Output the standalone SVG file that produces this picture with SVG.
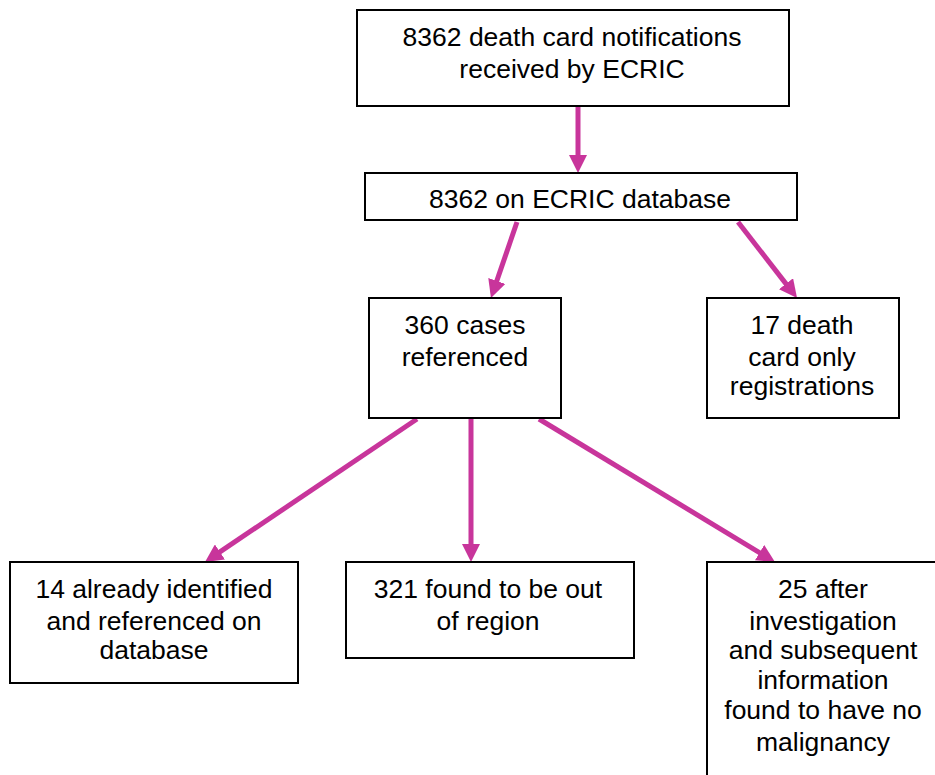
<svg xmlns="http://www.w3.org/2000/svg" width="935" height="775" viewBox="0 0 935 775">
<style>
.box{fill:#fff;stroke:#000;stroke-width:2}
.t{font-family:"Liberation Sans",Arial,sans-serif;font-size:26.5px;fill:#000;text-anchor:middle}
.c{stroke:#c8359b;stroke-width:5;fill:none;marker-end:url(#ah)}
</style>
<defs>
<marker id="ah" markerUnits="userSpaceOnUse" markerWidth="18" markerHeight="18" refX="8" refY="9" orient="auto">
<path d="M0,0 L18,9 L0,18 z" fill="#c8359b"/>
</marker>
</defs>
<rect width="935" height="775" fill="#fff"/>
<g id="connectors">
<line class="c" x1="578" y1="106" x2="578" y2="163"/>
<line class="c" x1="517" y1="222" x2="494.2" y2="288.5"/>
<line class="c" x1="738" y1="222" x2="790.9" y2="290.1"/>
<line class="c" x1="417" y1="419" x2="213.3" y2="556.4"/>
<line class="c" x1="471" y1="419" x2="471" y2="552"/>
<line class="c" x1="539" y1="419" x2="766.4" y2="556.8"/>
</g>
<g id="n1"><rect class="box" x="357" y="10" width="432" height="96"/>
<text class="t" x="572" y="46">8362 death card notifications</text>
<text class="t" x="572" y="78">received by ECRIC</text></g>
<g id="n2"><rect class="box" x="365" y="173" width="432" height="47"/>
<text class="t" x="580" y="208">8362 on ECRIC database</text></g>
<g id="n3"><rect class="box" x="369" y="298" width="192" height="120"/>
<text class="t" x="465" y="334">360 cases</text>
<text class="t" x="465" y="366">referenced</text></g>
<g id="n4"><rect class="box" x="707" y="298" width="192" height="120"/>
<text class="t" x="802" y="334">17 death</text>
<text class="t" x="802" y="366">card only</text>
<text class="t" x="802" y="395">registrations</text></g>
<g id="n5"><rect class="box" x="10" y="562" width="288" height="121"/>
<text class="t" x="154" y="598">14 already identified</text>
<text class="t" x="154" y="630">and referenced on</text>
<text class="t" x="154" y="659">database</text></g>
<g id="n6"><rect class="box" x="346" y="562" width="288" height="96"/>
<text class="t" x="488" y="598">321 found to be out</text>
<text class="t" x="488" y="630">of region</text></g>
<g id="n7"><rect class="box" x="707" y="562" width="240" height="230"/>
<text class="t" x="823" y="598">25 after</text>
<text class="t" x="823" y="630">investigation</text>
<text class="t" x="823" y="659">and subsequent</text>
<text class="t" x="823" y="689">information</text>
<text class="t" x="823" y="719">found to have no</text>
<text class="t" x="823" y="751">malignancy</text></g>
</svg>
